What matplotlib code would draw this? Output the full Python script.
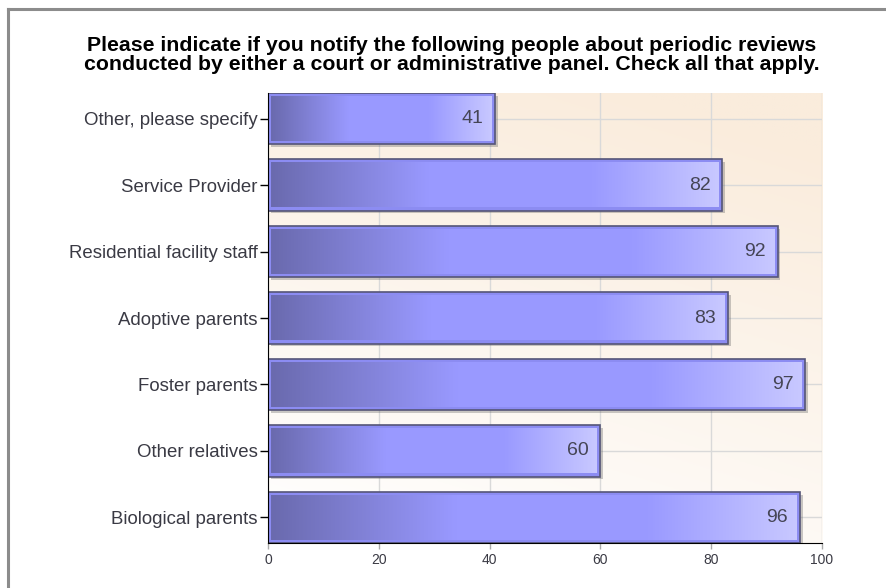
import matplotlib
matplotlib.use('Agg')
import matplotlib.pyplot as plt
import matplotlib.patheffects as pe
from matplotlib.colors import LinearSegmentedColormap
from matplotlib.lines import Line2D
import numpy as np

plt.rcParams['font.family'] = ['Liberation Sans', 'DejaVu Sans']

# data (top to bottom as in the picture)
categories = ['Other, please specify', 'Service Provider', 'Residential facility staff',
              'Adoptive parents', 'Foster parents', 'Other relatives', 'Biological parents']
values = [41, 82, 92, 83, 97, 60, 96]
x_ticks = [0, 20, 40, 60, 80, 100]

TITLE = ('Please indicate if you notify the following people about periodic reviews\n'
         'conducted by either a court or administrative panel. Check all that apply.')

fig = plt.figure(figsize=(8.87, 5.88), dpi=100, facecolor='white')
ax = fig.add_axes([0.3021, 0.0765, 0.6246, 0.7653])

# outer frame (left + top only visible)
fig.add_artist(Line2D([8.5/887, 8.5/887], [0, 1 - 9/588], transform=fig.transFigure,
                      color='#8c8c8c', lw=2.2))
fig.add_artist(Line2D([8.5/887, 1], [1 - 9/588, 1 - 9/588], transform=fig.transFigure,
                      color='#8c8c8c', lw=2.2))

fig.text(0.509, 0.9065, TITLE, ha='center', va='center', fontsize=15.3,
         fontweight='bold', color='black', linespacing=0.98)

bar_h = 0.77
n = len(categories)
ypos = np.arange(n)[::-1]
ax.set_xlim(0, 100)
ax.set_ylim(-bar_h / 2, n - 1 + bar_h / 2)

# plot background gradient
gy, gx = np.mgrid[0:1:200j, 0:1:200j]
t = np.clip(0.8 * (1 - gy) + 0.3 * gx, 0, 1)
top = np.array([1.0, 1.0, 1.0])
bot = np.array([250, 236, 220]) / 255
bg = top[None, None, :] * (1 - t[..., None]) + bot[None, None, :] * t[..., None]
ax.imshow(bg, extent=(0, 100, -bar_h / 2, n - 1 + bar_h / 2), origin='upper',
          aspect='auto', zorder=0)

ax.set_xticks(x_ticks)
ax.set_yticks(ypos)
ax.set_yticklabels(categories)
ax.grid(True, color='#d9d9d9', lw=1, zorder=1)
ax.set_axisbelow(True)

for s in ['top', 'right']:
    ax.spines[s].set_visible(False)
ax.spines['left'].set_color('black')
ax.spines['bottom'].set_color('black')
ax.spines['left'].set_zorder(6)
ax.spines['bottom'].set_zorder(6)

ax.tick_params(axis='y', length=6, width=1, color='black', labelsize=13.4,
               labelcolor='#3a3a44', pad=1.5)
ax.tick_params(axis='x', length=4, width=1, color='#aaaaaa', labelsize=10,
               labelcolor='#3a3a44', pad=3)

grad_cmap = LinearSegmentedColormap.from_list(
    'barg', [(0.0, '#6a6aae'), (0.35, '#9999ff'), (0.72, '#9a9aff'), (1.0, '#c8c8ff')])
grad = np.linspace(0, 1, 256)[None, :]

bars = ax.barh(ypos, values, height=bar_h, color='#8c8cf2', edgecolor='#555577',
               linewidth=1.2, zorder=3)
for b in bars:
    b.set_path_effects([pe.SimplePatchShadow(offset=(2, -2), shadow_rgbFace='#666666',
                                             alpha=0.35), pe.Normal()])

# inner gradient fill, inset from bar edge
dx = 0.6
dy = 0.05
for y, v in zip(ypos, values):
    ax.imshow(grad, cmap=grad_cmap, extent=(dx, v - dx, y - bar_h / 2 + dy,
              y + bar_h / 2 - dy), aspect='auto', zorder=4)
    ax.text(v - 2.1, y, str(v), ha='right', va='center', fontsize=14,
            color='#454555', zorder=5)

ax.set_xlim(0, 100)
ax.set_ylim(-bar_h / 2, n - 1 + bar_h / 2)

plt.savefig('out.png', dpi=100, facecolor='white')
